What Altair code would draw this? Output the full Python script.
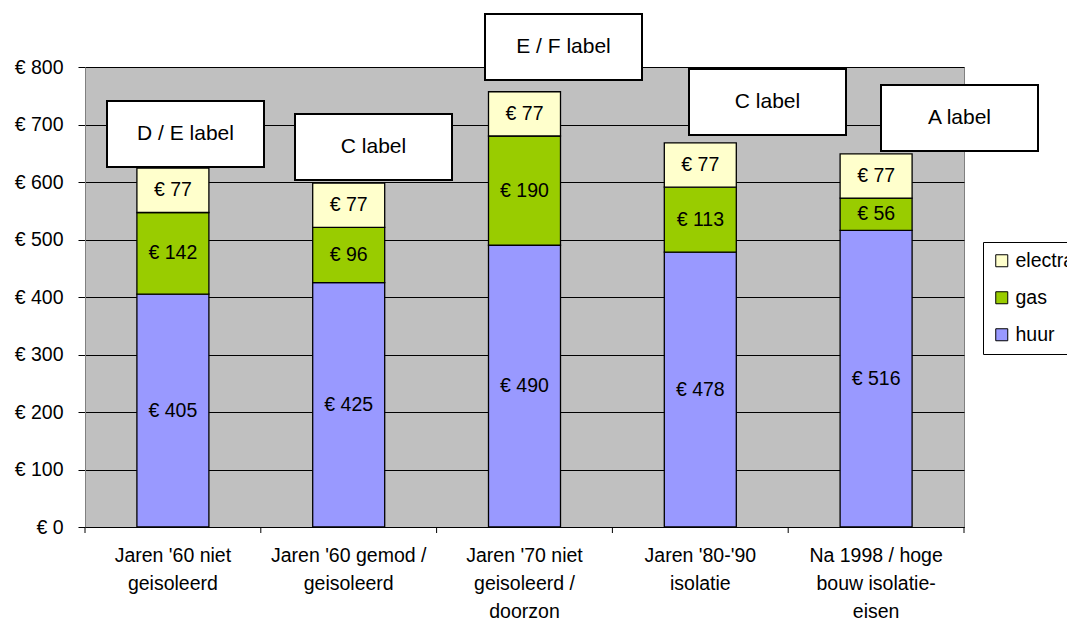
import altair as alt
import pandas as pd

# Monthly housing costs per construction period
categories = [
    "Jaren '60 niet\ngeisoleerd",
    "Jaren '60 gemod /\ngeisoleerd",
    "Jaren '70 niet\ngeisoleerd /\ndoorzon",
    "Jaren '80-'90\nisolatie",
    "Na 1998 / hoge\nbouw  isolatie-\neisen",
]
huur = [405, 425, 490, 478, 516]
gas = [142, 96, 190, 113, 56]
electra = [77, 77, 77, 77, 77]
series_names = ["huur", "gas", "electra"]          # bottom to top
series_colors = ["#9999FF", "#99CC00", "#FFFFCC"]
energy_labels = ["D / E label", "C label", "E / F label", "C label", "A label"]

# callout boxes (pixels inside the plot area)
callout_left = [22, 210, 400, 604, 796]
callout_top = [34, 47, -53, 2, 18]
CALLOUT_W, CALLOUT_H = 157, 66

W, H = 879, 460
FONT = "Liberation Sans"
FS = 19.5

rows = []
for i, cat in enumerate(categories):
    for k, (name, vals) in enumerate(zip(series_names, [huur, gas, electra])):
        rows.append({"cat": cat, "series": name, "value": vals[i], "order": k})
bars_df = pd.DataFrame(rows)

callout_df = pd.DataFrame({
    "text": energy_labels,
    "x0": callout_left,
    "x1": [v + CALLOUT_W for v in callout_left],
    "y0": callout_top,
    "y1": [v + CALLOUT_H for v in callout_top],
})
callout_df["xc"] = (callout_df["x0"] + callout_df["x1"]) / 2
callout_df["yc"] = (callout_df["y0"] + callout_df["y1"]) / 2

x_scale = alt.Scale(domain=categories, paddingInner=0, paddingOuter=0)
y_scale = alt.Scale(domain=[0, 800], nice=False)

legend_domain = series_names[::-1]
legend_range = series_colors[::-1]

base = alt.Chart(bars_df)

bars = base.mark_bar(size=72, stroke="black", strokeWidth=1.3).encode(
    x=alt.X(
        "cat:N", sort=categories, scale=x_scale, title=None,
        axis=alt.Axis(
            labelAngle=0, labelExpr="split(datum.label, '\\n')",
            ticks=False, labelFontSize=FS, labelFont=FONT, labelColor="black",
            labelLineHeight=28, labelPadding=19, domainColor="black",
            labelBaseline="top", title=None,
        ),
    ),
    y=alt.Y(
        "value:Q", stack="zero", scale=y_scale, title=None,
        axis=alt.Axis(
            values=list(range(0, 801, 100)), labelExpr="'€ ' + datum.value",
            labelFontSize=FS, labelFont=FONT, labelColor="black", labelPadding=15,
            tickSize=7, tickColor="black", domainColor="#808080",
            gridColor="black", gridWidth=1, title=None,
        ),
    ),
    color=alt.Color(
        "series:N",
        scale=alt.Scale(domain=legend_domain, range=legend_range),
        legend=alt.Legend(
            title=None, orient="none", legendX=898, legendY=175,
            fillColor="white", strokeColor="black", padding=9,
            symbolType="square", symbolSize=144, symbolStrokeColor="black",
            symbolStrokeWidth=1, labelFontSize=FS, labelFont=FONT,
            labelColor="black", rowPadding=16, labelOffset=4,
        ),
    ),
    order=alt.Order("order:Q"),
)

seg_text = base.transform_stack(
    stack="value", groupby=["cat"], as_=["s0", "s1"],
    sort=[alt.SortField("order")],
).transform_calculate(
    mid="(datum.s0 + datum.s1) / 2", lbl="'€ ' + datum.value"
).mark_text(font=FONT, fontSize=FS, color="black").encode(
    x=alt.X("cat:N", sort=categories, scale=x_scale, title=None),
    y=alt.Y("mid:Q", scale=y_scale, title=None),
    text="lbl:N",
)

# category separator ticks under the x axis
ticks = alt.Chart(pd.DataFrame({"cat": categories})).mark_rule(color="black").encode(
    x=alt.X("cat:N", sort=categories, scale=x_scale, bandPosition=0, title=None),
    y=alt.value(H), y2=alt.value(H + 6),
)
end_tick = alt.Chart(pd.DataFrame({"cat": categories[-1:]})).mark_rule(color="black").encode(
    x=alt.X("cat:N", sort=categories, scale=x_scale, bandPosition=1, title=None),
    y=alt.value(H), y2=alt.value(H + 6),
)

callout_base = alt.Chart(callout_df)
callout_boxes = callout_base.mark_rect(fill="white", stroke="black", strokeWidth=2).encode(
    x=alt.X("x0:Q", scale=None, axis=None), x2="x1:Q",
    y=alt.Y("y0:Q", scale=None, axis=None), y2="y1:Q",
)
callout_text = callout_base.mark_text(font=FONT, fontSize=21, color="black").encode(
    x=alt.X("xc:Q", scale=None, axis=None),
    y=alt.Y("yc:Q", scale=None, axis=None),
    text="text:N",
)

main = alt.layer(bars, seg_text, ticks, end_tick)
chart = alt.layer(main, callout_boxes, callout_text).resolve_scale(
    x="independent", y="independent"
).properties(
    width=W, height=H,
    autosize=alt.AutoSizeParams(type="none"),
    padding={"left": 85, "top": 67, "right": 103, "bottom": 95},
    background="white",
).configure_view(
    fill="#C0C0C0", stroke="#808080", strokeWidth=1
)

chart.save("out.html", embed_options={"renderer": "svg", "actions": False})
